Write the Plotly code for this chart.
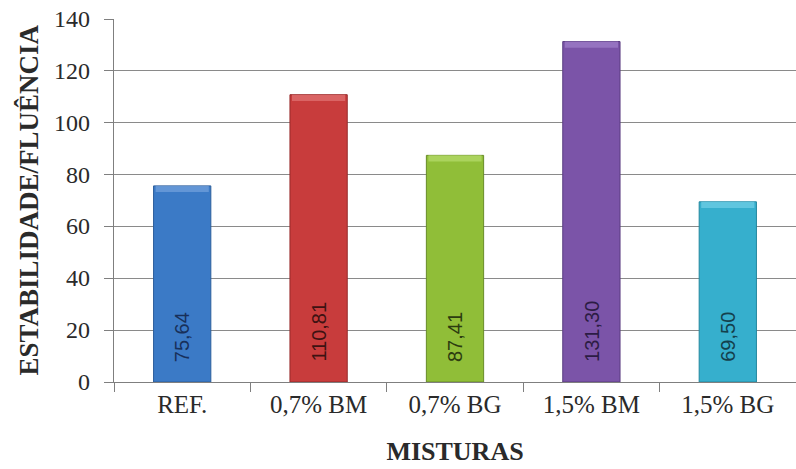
import plotly.graph_objects as go

# Mixtures and their stability/flow ratio
misturas = ["REF.", "0,7% BM", "0,7% BG", "1,5% BM", "1,5% BG"]
valores = [75.64, 110.81, 87.41, 131.30, 69.50]
rotulos = ["75,64", "110,81", "87,41", "131,30", "69,50"]

# y-axis ticks
y_ticks = [0, 20, 40, 60, 80, 100, 120, 140]

cores = ["#3B7AC6", "#C83C3C", "#90BE38", "#7B54A8", "#36AFCD"]
topos = ["#6E9EDA", "#DE6E6E", "#B2D866", "#9C7BC6", "#6CCCE4"]
bordas = ["#2C5E9C", "#962A2A", "#688C28", "#5A3C80", "#24879F"]
cores_texto = ["#18305A", "#3E1212", "#2C3C10", "#2C1C44", "#14404C"]

serif = "Liberation Serif, Times New Roman, serif"
cor_texto = "#2a2a2a"
largura = 0.42
altura_topo = 2.4

fig = go.Figure()

# main bars
fig.add_trace(go.Bar(
    x=misturas,
    y=valores,
    width=largura,
    marker=dict(color=cores, line=dict(color=bordas, width=1)),
    hoverinfo="skip",
))

# lighter bevel strip at the top of each bar
fig.add_trace(go.Bar(
    x=misturas,
    y=[altura_topo] * len(valores),
    base=[v - altura_topo for v in valores],
    width=largura - 0.03,
    marker=dict(color=topos, opacity=0.8, line=dict(width=0)),
    hoverinfo="skip",
))

# value labels, rotated, sitting near the base of each bar
for cat, rot, cor in zip(misturas, rotulos, cores_texto):
    fig.add_annotation(
        x=cat, y=0, text=rot, showarrow=False, textangle=-90,
        xanchor="center", yanchor="bottom", yshift=18,
        font=dict(family="Liberation Sans, Arial, sans-serif", size=20, color=cor),
    )

# y tick labels, set a little away from the tick marks
for v in y_ticks:
    fig.add_annotation(
        x=0, xref="paper", y=v, yref="y", text=str(v), showarrow=False,
        xanchor="right", yanchor="middle", xshift=-22,
        font=dict(family=serif, size=24, color=cor_texto),
    )

# y axis title
fig.add_annotation(
    x=0, xref="paper", y=0.5, yref="paper", text="<b>ESTABILIDADE/FLUÊNCIA</b>",
    showarrow=False, textangle=-90, xanchor="center", yanchor="middle", xshift=-86,
    font=dict(family=serif, size=27, color=cor_texto),
)

fig.update_layout(
    width=796,
    height=469,
    margin=dict(l=114, r=0, t=19, b=87),
    paper_bgcolor="white",
    plot_bgcolor="white",
    showlegend=False,
    barmode="overlay",
    font=dict(family=serif, size=24, color=cor_texto),
    xaxis=dict(
        title=dict(text="<b>MISTURAS</b>", font=dict(family=serif, size=26, color=cor_texto), standoff=24),
        tickson="boundaries",
        ticks="outside",
        ticklen=9,
        tickcolor="#7f7f7f",
        showline=True,
        linecolor="#7f7f7f",
        linewidth=1,
        showgrid=False,
        tickfont=dict(family=serif, size=25, color=cor_texto),
    ),
    yaxis=dict(
        range=[0, 140],
        tickvals=y_ticks,
        showticklabels=False,
        ticks="outside",
        ticklen=9,
        tickcolor="#7f7f7f",
        showline=True,
        linecolor="#7f7f7f",
        linewidth=1,
        showgrid=True,
        gridcolor="#8a8a8a",
        gridwidth=1,
        zeroline=False,
    ),
)

fig.write_html("out.html")
